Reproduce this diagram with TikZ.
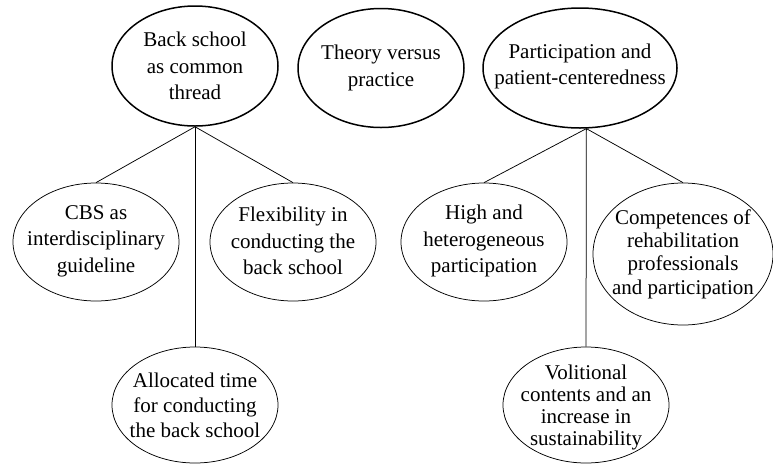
\documentclass[tikz,border=0pt]{standalone}
\usepackage{fontspec}
\setmainfont{Liberation Serif}
\usetikzlibrary{shapes.geometric}
\tikzset{
  topell/.style={ellipse, draw, line width=1.5pt, inner sep=0pt},
  subell/.style={ellipse, draw, line width=0.75pt, inner sep=0pt},
  txt/.style={align=center, inner sep=0pt, font=\fontsize{21}{26.5}\selectfont},
  txtb/.style={align=center, inner sep=0pt, font=\fontsize{21}{23.3}\selectfont},
  conn/.style={line width=0.75pt}
}
\begin{document}
\begin{tikzpicture}[x=1pt,y=-1pt]
\useasboundingbox (0,0) rectangle (773,464);
% top level
\node[topell, minimum width=166pt, minimum height=120pt] (bs) at (195,66) {};
\node[txt] (bst) at (195,66) {Back school\\as common\\thread};
\node[topell, minimum width=166pt, minimum height=119pt] (tp) at (381,68) {};
\node[txt] (tpt) at (381,68) {Theory versus\\practice};
\node[topell, minimum width=194pt, minimum height=120pt] (pp) at (580,68) {};
\node[txt] (ppt) at (580,66.5) {Participation and\\patient-centeredness};
% left children
\node[subell, minimum width=166pt, minimum height=118pt] (cbs) at (96,242) {};
\node[txt] (cbst) at (96,241) {CBS as\\interdisciplinary\\guideline};
\node[subell, minimum width=166pt, minimum height=118pt] (fl) at (293,242) {};
\node[txt] (flt) at (293,241) {Flexibility in\\conducting the\\back school};
\node[subell, minimum width=166pt, minimum height=116pt] (al) at (195,405) {};
\node[txt, font=\fontsize{21}{25}\selectfont] (alt) at (195,405) {Allocated time\\for conducting\\the back school};
% right children
\node[subell, minimum width=166pt, minimum height=118pt] (hi) at (484,242) {};
\node[txt] (hit) at (484,241) {High and\\heterogeneous\\participation};
\node[subell, minimum width=180pt, minimum height=142pt] (co) at (683,254) {};
\node[txtb] (cot) at (683,254) {Competences of\\rehabilitation\\professionals\\and participation};
\node[subell, minimum width=166pt, minimum height=116pt] (vo) at (586,405) {};
\node[txtb, font=\fontsize{21}{22}\selectfont] (vot) at (586,407) {Volitional\\contents and an\\increase in\\sustainability};
% connectors
\draw[conn] (bs.south) -- (cbs.north);
\draw[conn] (bs.south) -- (fl.north);
\draw[conn] (bs.south) -- (al.north);
\draw[conn] (pp.-84) -- (hi.north);
\draw[conn] (pp.-84) -- (co.north);
\draw[conn] (pp.-84) -- (vo.north);
\end{tikzpicture}
\end{document}
